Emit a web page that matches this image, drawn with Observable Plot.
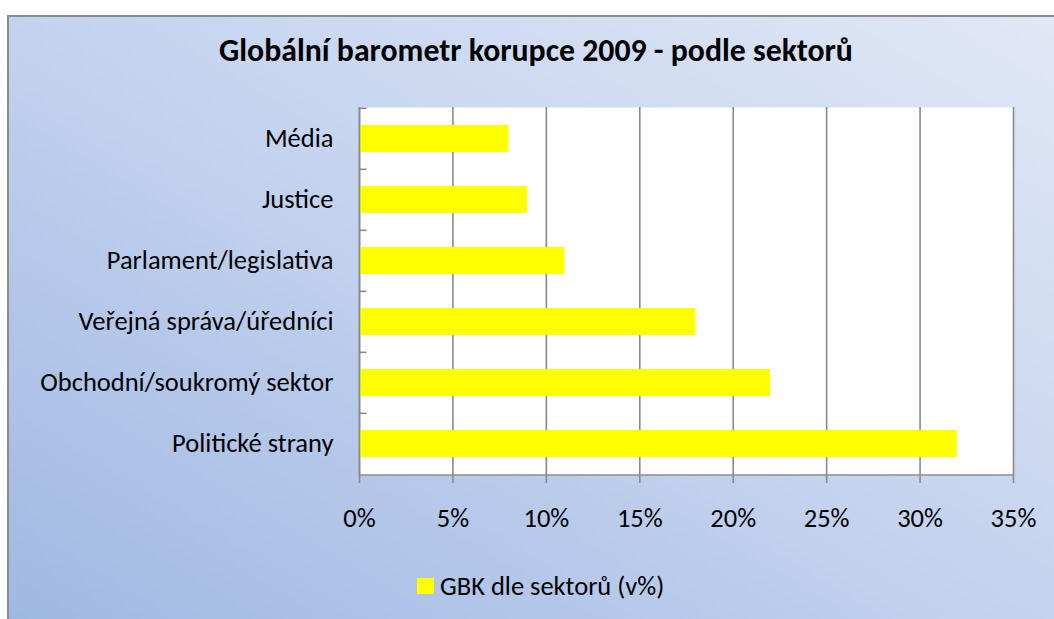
<!DOCTYPE html>
<html>
<head>
<meta charset="utf-8">
<script src="https://cdn.jsdelivr.net/npm/d3@7"></script>
<script src="https://cdn.jsdelivr.net/npm/@observablehq/plot@0.6"></script>
<style>
  html, body { margin: 0; padding: 0; background: #fff; width: 1054px; height: 619px; overflow: hidden; position: relative; }
  #frame { position: absolute; left: 7px; top: 15px; width: 1100px; height: 660px;
    border-left: 2px solid #8c8c8c; border-top: 2px solid #8c8c8c;
    background: linear-gradient(to top right, #9cb6e1 0%, #c3d2ee 50%, #e2e9f6 100%); }
  #title { position: absolute; left: 0; width: 1072px; top: 31px; text-align: center;
    font-family: Carlito, Calibri, Lato, sans-serif; font-weight: bold; font-size: 31.8px; color: #000; white-space: nowrap; }
  #chart { position: absolute; left: 0; top: 0; }
  #legend { position: absolute; left: 417px; top: 570px; height: 32px; display: flex; align-items: center;
    font-family: Carlito, Calibri, Lato, sans-serif; font-size: 26.5px; color: #000; white-space: nowrap; }
  #legend .sw { width: 17px; height: 16px; background: #ffff00; margin-right: 6px; }
</style>
</head>
<body>
<div id="frame"></div>
<div id="title"></div>
<div id="chart"></div>
<div id="legend"><div class="sw"></div><span id="legtext"></span></div>
<script>
const chartTitle = "Globální barometr korupce 2009 - podle sektorů";
const categories = ["Média", "Justice", "Parlament/legislativa", "Veřejná správa/úředníci", "Obchodní/soukromý sektor", "Politické strany"];
const values = [8, 9, 11, 18, 22, 32];
const xTicks = [0, 5, 10, 15, 20, 25, 30, 35];
const seriesName = "GBK dle sektorů (v%)";

document.getElementById("title").textContent = chartTitle;
document.getElementById("legtext").textContent = seriesName;

const data = categories.map((c, i) => ({sector: c, value: values[i]}));

const W = 1054, H = 619, mL = 359, mT = 107, mR = 41, mB = 144;
const bw = (H - mT - mB) / categories.length;
const gray = "#8a8a8a";
const fs = 26.5;
const tickSym = { draw(ctx, size) { ctx.moveTo(0, 0); ctx.lineTo(7, 0); } };

const chart = Plot.plot({
  width: W, height: H,
  marginLeft: mL, marginTop: mT, marginRight: mR, marginBottom: mB,
  style: { background: "transparent", fontFamily: "Carlito, Calibri, Lato, sans-serif", fontSize: fs + "px", color: "#000", overflow: "visible" },
  x: { domain: [0, 35], label: null },
  y: { domain: categories, padding: 0, label: null },
  marks: [
    Plot.frame({ fill: "white", stroke: null }),
    Plot.ruleX(xTicks, { stroke: gray, strokeWidth: 1.6 }),
    Plot.barX(data, { x: "value", y: "sector", fill: "#ffff00", insetTop: 17, insetBottom: 17 }),
    Plot.ruleX([0], { stroke: gray, strokeWidth: 1.6 }),
    (index, scales, values, dims) => {
      const l = document.createElementNS("http://www.w3.org/2000/svg", "line");
      const y = dims.height - dims.marginBottom;
      l.setAttribute("x1", scales.x(0)); l.setAttribute("x2", scales.x(35));
      l.setAttribute("y1", y); l.setAttribute("y2", y);
      l.setAttribute("stroke", gray); l.setAttribute("stroke-width", 1.6);
      return l;
    },
    Plot.dot(categories, { x: () => 0, y: d => d, dy: -bw / 2, symbol: tickSym, fill: "none", stroke: gray, strokeWidth: 1.6 }),
    Plot.axisX({ ticks: xTicks, tickFormat: d => d + "%", tickSize: 8, tickPadding: 25, stroke: gray, strokeWidth: 1.6, fill: "#000", fontSize: fs, label: null }),
    Plot.axisY({ tickSize: 0, tickPadding: 26, fill: "#000", fontSize: fs, label: null })
  ]
});
document.getElementById("chart").appendChild(chart);
</script>
</body>
</html>
